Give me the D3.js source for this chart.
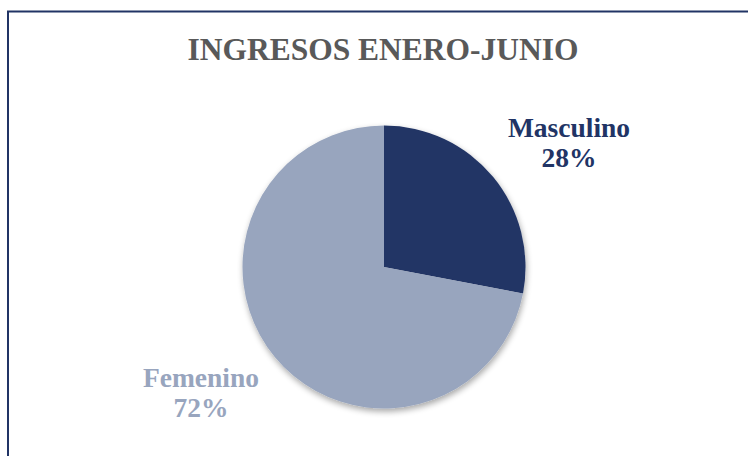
<!DOCTYPE html>
<html>
<head>
<meta charset="utf-8">
<script src="https://cdn.jsdelivr.net/npm/d3@7"></script>
<style>
  html, body { margin: 0; padding: 0; background: #ffffff; }
  svg { display: block; }
</style>
</head>
<body>
<svg id="chart" width="748" height="456"></svg>
<script>
const title = "INGRESOS ENERO-JUNIO";
const categories = ["Masculino", "Femenino"];
const values = [28, 72];
const labels = ["28%", "72%"];
const colors = ["#213465", "#98A5BE"];

const svg = d3.select("#chart");
const W = 748, H = 456;

// chart border (only left and top visible)
svg.append("rect")
  .attr("x", 8).attr("y", 11.5)
  .attr("width", 800).attr("height", 600)
  .attr("fill", "#ffffff")
  .attr("stroke", "#213465")
  .attr("stroke-width", 2);

// title
svg.append("text")
  .attr("x", 383).attr("y", 60)
  .attr("text-anchor", "middle")
  .attr("font-family", "'Liberation Serif', 'Times New Roman', serif")
  .attr("font-weight", "bold")
  .attr("font-size", 31.5)
  .attr("fill", "#595959")
  .text(title);

const defs = svg.append("defs");
const f = defs.append("filter").attr("id", "shadow")
  .attr("x", "-20%").attr("y", "-20%").attr("width", "140%").attr("height", "140%");
f.append("feGaussianBlur").attr("in", "SourceAlpha").attr("stdDeviation", 3).attr("result", "b");
f.append("feOffset").attr("in", "b").attr("dx", 1).attr("dy", 3).attr("result", "o");
f.append("feComponentTransfer").attr("in", "o").attr("result", "oa")
  .append("feFuncA").attr("type", "linear").attr("slope", 0.35);
const m = f.append("feMerge");
m.append("feMergeNode").attr("in", "oa");
m.append("feMergeNode").attr("in", "SourceGraphic");

const cx = 384, cy = 267, r = 141.5;
const pie = d3.pie().sort(null).value(d => d)(values);
const arc = d3.arc().innerRadius(0).outerRadius(r);

const g = svg.append("g").attr("transform", `translate(${cx},${cy})`);
const sg = g.append("g").attr("filter", "url(#shadow)");
sg.selectAll("path").data(pie).enter().append("path")
  .attr("d", arc)
  .attr("fill", (d, i) => colors[i]);

// labels (outside)
const labelPos = [[569 - cx, 137 - cy], [201 - cx, 387 - cy]];
const lg = g.selectAll("text.lbl").data(pie).enter().append("text")
  .attr("class", "lbl")
  .attr("text-anchor", "middle")
  .attr("font-family", "'Liberation Serif', 'Times New Roman', serif")
  .attr("font-weight", "bold")
  .attr("font-size", 27.5)
  .attr("fill", (d, i) => colors[i])
  .attr("transform", (d, i) => `translate(${labelPos[i][0]},${labelPos[i][1]})`);
lg.append("tspan").attr("x", 0).attr("y", 0).text((d, i) => categories[i]);
lg.append("tspan").attr("x", 0).attr("y", 30).text((d, i) => labels[i]);
</script>
</body>
</html>
